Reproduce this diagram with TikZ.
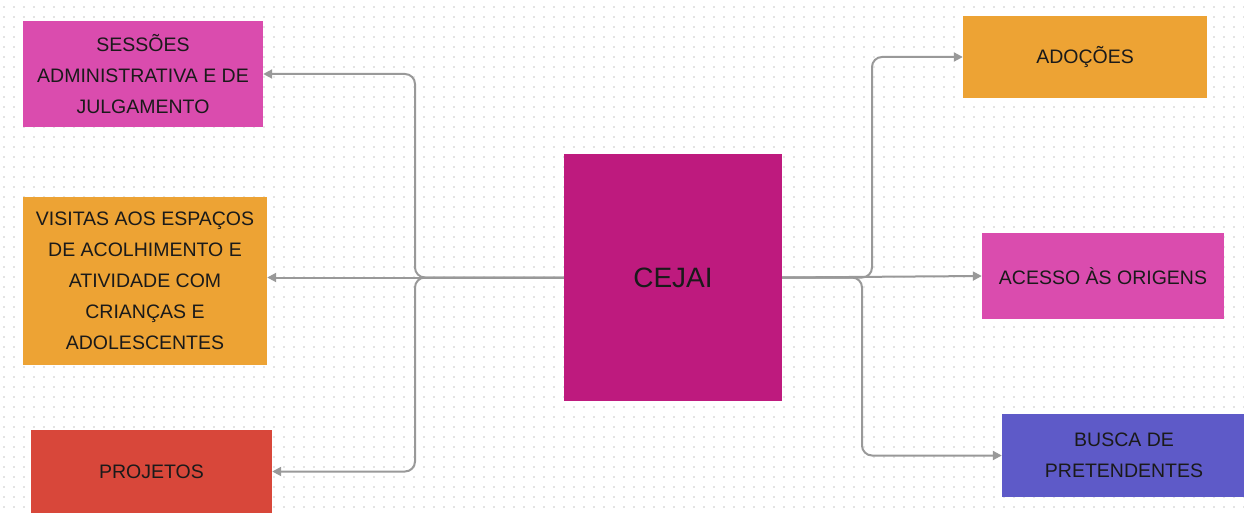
\documentclass[tikz,border=0pt]{standalone}
\usepackage{fontspec}
\setmainfont{Liberation Sans}
\usetikzlibrary{arrows,arrows.meta,shapes,positioning}

\definecolor{cjpink}{HTML}{DA4CAE}
\definecolor{cjorange}{HTML}{EDA334}
\definecolor{cjred}{HTML}{D8473A}
\definecolor{cjmagenta}{HTML}{BE1A7E}
\definecolor{cjpurple}{HTML}{5E5AC8}
\definecolor{cjline}{HTML}{999999}
\definecolor{cjtext}{HTML}{1A1A1A}

\tikzset{
  box/.style={rectangle, inner sep=0pt, align=center, text=cjtext,
    font=\fontsize{19.5}{31}\selectfont},
  link/.style={draw=cjline, line width=2pt, rounded corners=10pt,
    -{Triangle[length=9pt,width=9pt]}},
  dotrow/.style={draw=black!11, line width=1.6pt, dash pattern=on 1.6pt off 8.4pt, dash phase=-3pt}
}

\begin{document}
\begin{tikzpicture}[x=1pt,y=-1pt]
                % canvas, same size as the screenshot
                \clip (0,0) rectangle (1244,513);
                \fill[white] (0,0) rectangle (1244,513);
                % dotted grid in the background
                \foreach \y in {7,17,...,507}
                  \draw[dotrow] (0,\y) -- (1244,\y);

                % centre box
                \node[box, fill=cjmagenta, minimum width=218pt, minimum height=247pt,
                  font=\fontsize{28}{34}\selectfont] (cejai) at (673,277.5) {CEJAI};

                % left column
                \node[box, fill=cjpink, minimum width=240pt, minimum height=106pt]
                  (sessoes) at (143,74) {SESSÕES\\ADMINISTRATIVA E DE\\JULGAMENTO};
                \node[box, fill=cjorange, minimum width=244pt, minimum height=168pt]
                  (visitas) at (145,281) {VISITAS AOS ESPAÇOS\\DE ACOLHIMENTO E\\ATIVIDADE COM\\CRIANÇAS E\\ADOLESCENTES};
                \node[box, fill=cjred, minimum width=241pt, minimum height=83pt]
                  (projetos) at (151.5,471.5) {PROJETOS};

                % right column
                \node[box, fill=cjorange, minimum width=244pt, minimum height=82pt]
                  (adocoes) at (1085,57) {ADOÇÕES};
                \node[box, fill=cjpink, minimum width=242pt, minimum height=86pt]
                  (acesso) at (1103,276) {ACESSO ÀS ORIGENS};
                \node[box, fill=cjpurple, minimum width=244pt, minimum height=83pt]
                  (busca) at (1124,455.5) {BUSCA DE\\PRETENDENTES};

                % junction points of the connectors
                \coordinate (lj) at (415,277.5);
                \coordinate (rja) at (872,277.5);
                \coordinate (rjb) at (862,277.5);

                % connectors to the left
                \draw[link] (cejai.west) -- (lj) |- (sessoes.east);
                \draw[link] (cejai.west) -- (visitas.east |- cejai.west);
                \draw[link] (cejai.west) -- (lj) |- (projetos.east);

                % connectors to the right
                \draw[link] (cejai.east) -- (rja) |- (adocoes.west);
                \draw[link] (cejai.east) -- (acesso.west);
                \draw[link] (cejai.east) -- (rjb) |- (busca.west);
\end{tikzpicture}
\end{document}
